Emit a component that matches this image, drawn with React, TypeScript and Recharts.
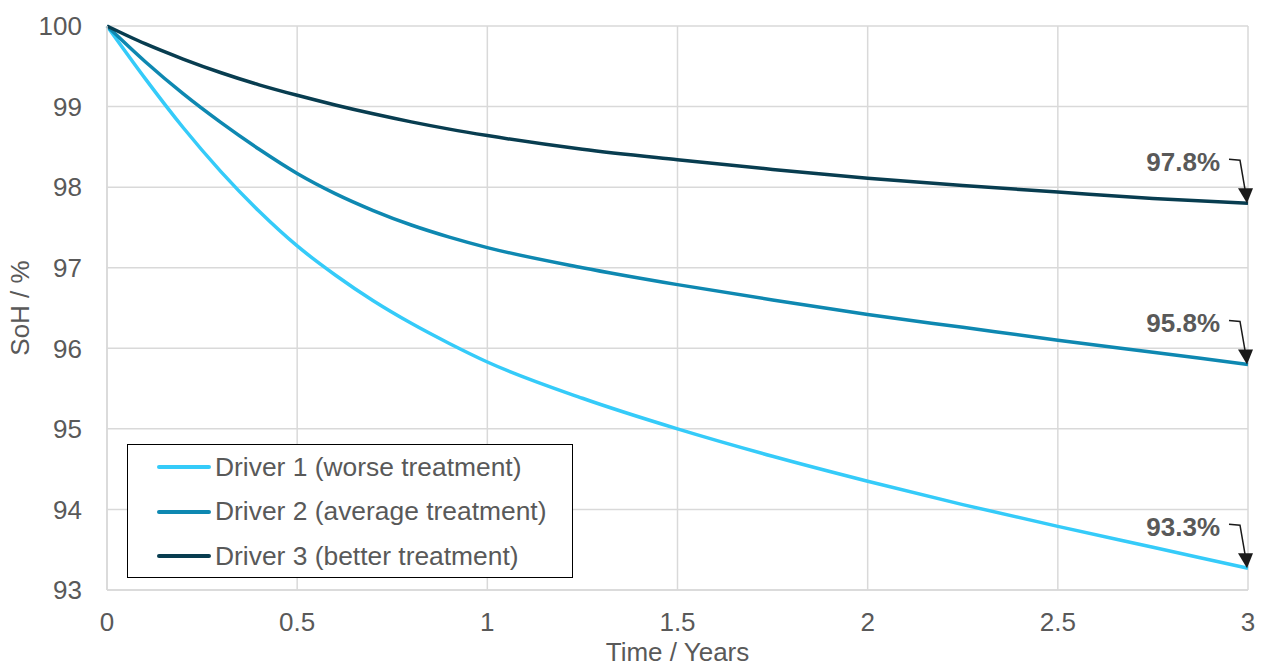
import {
  CartesianGrid,
  LabelList,
  Line,
  LineChart,
  XAxis,
  YAxis,
} from "recharts";

const years = [0, 0.1, 0.2, 0.3, 0.4, 0.5, 0.6, 0.7, 0.8, 0.9, 1, 1.25, 1.5, 1.75, 2, 2.25, 2.5, 2.75, 3];
const driver1 = [100, 99.35, 98.74, 98.19, 97.7, 97.27, 96.91, 96.59, 96.31, 96.06, 95.83, 95.38, 95.0, 94.66, 94.35, 94.06, 93.79, 93.53, 93.27];
const driver2 = [100, 99.56, 99.16, 98.8, 98.47, 98.17, 97.92, 97.71, 97.53, 97.38, 97.25, 97.0, 96.79, 96.6, 96.42, 96.26, 96.1, 95.95, 95.8];
const driver3 = [100, 99.78, 99.59, 99.42, 99.27, 99.14, 99.02, 98.91, 98.81, 98.72, 98.64, 98.47, 98.34, 98.22, 98.11, 98.02, 97.94, 97.86, 97.8];

const xTicks = [0, 0.5, 1, 1.5, 2, 2.5, 3];
const yTicks = [93, 94, 95, 96, 97, 98, 99, 100];

const series = [
  { key: "d1", name: "Driver 1 (worse treatment)", color: "#35CBF9", values: driver1 },
  { key: "d2", name: "Driver 2 (average treatment)", color: "#0E88B1", values: driver2 },
  { key: "d3", name: "Driver 3 (better treatment)", color: "#083D50", values: driver3 },
];

const data = years.map((t, i) => ({
  t,
  d1: driver1[i],
  d2: driver2[i],
  d3: driver3[i],
}));

const grey = "#595959";
const font = "'Liberation Sans', Arial, sans-serif";
const fs = 26;

// callout with elbow arrow on the last point of each series
function EndLabel(props: any) {
  const { x, y, value, index } = props;
  if (index !== years.length - 1) return null;
  return (
    <g>
      <text
        x={x - 28}
        y={y - 41}
        textAnchor="end"
        dominantBaseline="central"
        fontSize={fs}
        fontWeight="bold"
        fill={grey}
        fontFamily={font}
      >
        {value.toFixed(1)}%
      </text>
      <polyline
        points={`${x - 19},${y - 44} ${x - 8},${y - 43} ${x - 3},${y - 14}`}
        fill="none"
        stroke="#1a1a1a"
        strokeWidth={1.5}
      />
      <polygon
        points={`${x - 10},${y - 15} ${x + 5},${y - 15} ${x - 1},${y}`}
        fill="#1a1a1a"
      />
    </g>
  );
}

function LegendBox() {
  return (
    <div
      style={{
        position: "absolute",
        left: 127,
        top: 444,
        border: "1.5px solid #000",
        background: "#fff",
        width: 446,
        height: 134,
        boxSizing: "border-box",
        fontFamily: font,
      }}
    >
      {series.map((s, i) => (
        <div
          key={s.key}
          style={{
            position: "absolute",
            top: 22 + i * 44.5 - 16,
            left: 0,
            display: "flex",
            alignItems: "center",
            height: 32,
          }}
        >
          <div
            style={{
              marginLeft: 29,
              width: 54,
              height: 4,
              borderRadius: 2,
              background: s.color,
            }}
          />
          <span style={{ fontSize: 26.4, color: grey, marginLeft: 4, whiteSpace: "nowrap" }}>
            {s.name}
          </span>
        </div>
      ))}
    </div>
  );
}

function YLabel(props: any) {
  const { viewBox } = props;
  const cy = viewBox.y + viewBox.height / 2;
  return (
    <text
      x={20}
      y={cy}
      transform={`rotate(-90, 20, ${cy})`}
      textAnchor="middle"
      dominantBaseline="central"
      fontSize={fs}
      fill={grey}
      fontFamily={font}
    >
      SoH / %
    </text>
  );
}

export default function App() {
  return (
    <div style={{ position: "absolute", left: 0, top: 0, width: 1261, height: 668, background: "#fff", overflow: "hidden" }}>
      <LineChart
        width={1261}
        height={668}
        data={data}
        margin={{ top: 26, right: 13, bottom: 0, left: 0 }}
      >
        <CartesianGrid stroke="#d9d9d9" strokeWidth={1.5} />
        <XAxis
          dataKey="t"
          type="number"
          domain={[0, 3]}
          ticks={xTicks}
          height={78}
          tickLine={false}
          tickMargin={17}
          axisLine={{ stroke: "#d9d9d9", strokeWidth: 1.5 }}
          tick={{ fontSize: fs, fill: grey, fontFamily: font }}
          label={{
            value: "Time / Years",
            position: "insideBottom",
            offset: 7,
            fontSize: fs,
            fill: grey,
            fontFamily: font,
          }}
        />
        <YAxis
          type="number"
          domain={[93, 100]}
          ticks={yTicks}
          width={107}
          tickLine={false}
          tickMargin={19}
          axisLine={{ stroke: "#d9d9d9", strokeWidth: 1.5 }}
          tick={{ fontSize: fs, fill: grey, fontFamily: font }}
          label={<YLabel />}
        />
        {series.map((s) => (
          <Line
            key={s.key}
            dataKey={s.key}
            name={s.name}
            type="monotone"
            stroke={s.color}
            strokeWidth={3.5}
            dot={false}
            isAnimationActive={false}
          >
            <LabelList dataKey={s.key} content={<EndLabel />} />
          </Line>
        ))}
      </LineChart>
      <LegendBox />
    </div>
  );
}
